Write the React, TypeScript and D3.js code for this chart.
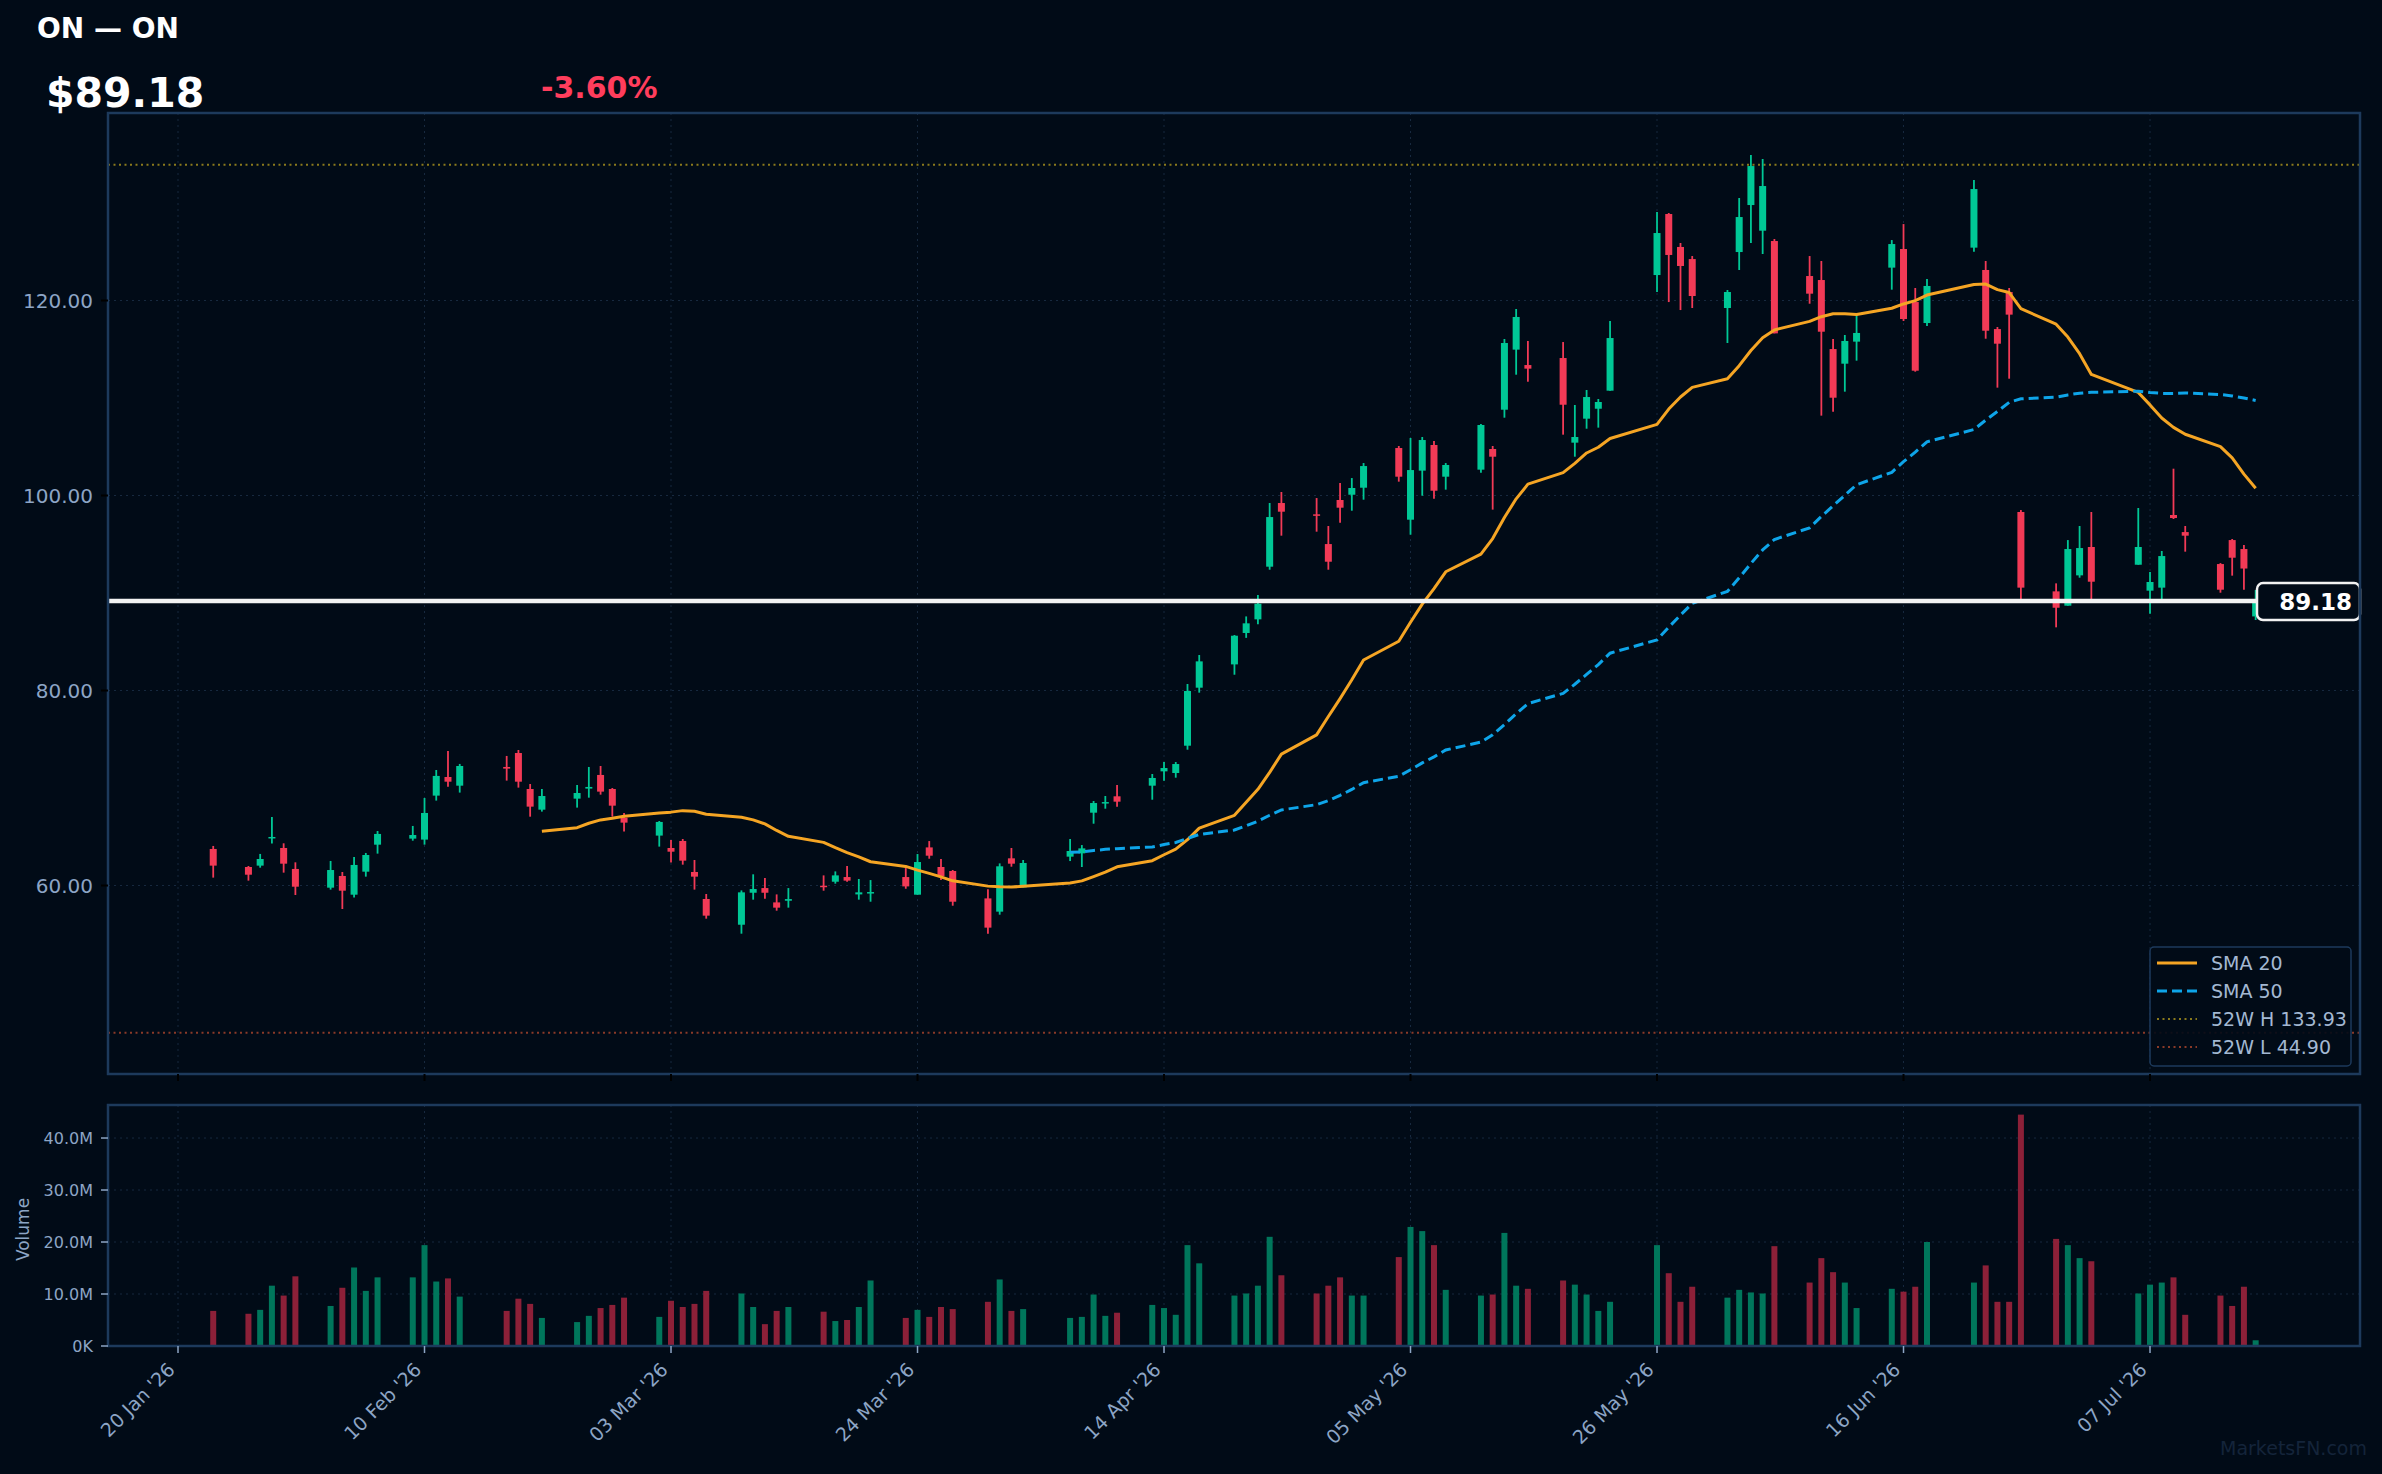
import * as d3 from 'd3'
import { useEffect, useRef } from 'react'

// daily bars, 23 Jan - 16 Jul 2026
const dates = [
  '2026-01-23', '2026-01-26', '2026-01-27', '2026-01-28', '2026-01-29', '2026-01-30',
  '2026-02-02', '2026-02-03', '2026-02-04', '2026-02-05', '2026-02-06',
  '2026-02-09', '2026-02-10', '2026-02-11', '2026-02-12', '2026-02-13',
  '2026-02-17', '2026-02-18', '2026-02-19', '2026-02-20',
  '2026-02-23', '2026-02-24', '2026-02-25', '2026-02-26', '2026-02-27',
  '2026-03-02', '2026-03-03', '2026-03-04', '2026-03-05', '2026-03-06',
  '2026-03-09', '2026-03-10', '2026-03-11', '2026-03-12', '2026-03-13',
  '2026-03-16', '2026-03-17', '2026-03-18', '2026-03-19', '2026-03-20',
  '2026-03-23', '2026-03-24', '2026-03-25', '2026-03-26', '2026-03-27',
  '2026-03-30', '2026-03-31', '2026-04-01', '2026-04-02',
  '2026-04-06', '2026-04-07', '2026-04-08', '2026-04-09', '2026-04-10',
  '2026-04-13', '2026-04-14', '2026-04-15', '2026-04-16', '2026-04-17',
  '2026-04-20', '2026-04-21', '2026-04-22', '2026-04-23', '2026-04-24',
  '2026-04-27', '2026-04-28', '2026-04-29', '2026-04-30', '2026-05-01',
  '2026-05-04', '2026-05-05', '2026-05-06', '2026-05-07', '2026-05-08',
  '2026-05-11', '2026-05-12', '2026-05-13', '2026-05-14', '2026-05-15',
  '2026-05-18', '2026-05-19', '2026-05-20', '2026-05-21', '2026-05-22',
  '2026-05-26', '2026-05-27', '2026-05-28', '2026-05-29',
  '2026-06-01', '2026-06-02', '2026-06-03', '2026-06-04', '2026-06-05',
  '2026-06-08', '2026-06-09', '2026-06-10', '2026-06-11', '2026-06-12',
  '2026-06-15', '2026-06-16', '2026-06-17', '2026-06-18',
  '2026-06-22', '2026-06-23', '2026-06-24', '2026-06-25', '2026-06-26',
  '2026-06-29', '2026-06-30', '2026-07-01', '2026-07-02',
  '2026-07-06', '2026-07-07', '2026-07-08', '2026-07-09', '2026-07-10',
  '2026-07-13', '2026-07-14', '2026-07-15', '2026-07-16',
]

const opens = [
  63.75, 61.9, 62.04, 64.84, 63.85, 61.7,
  59.78, 60.98, 59.06, 61.42, 64.19,
  64.81, 64.71, 69.22, 71.13, 70.24,
  72.16, 73.59, 69.9, 67.78,
  68.91, 69.94, 71.34, 69.9, 66.96,
  65.12, 63.85, 64.57, 61.39, 58.62,
  55.98, 59.26, 59.74, 58.27, 58.44,
  59.98, 60.39, 60.87, 59.09, 59.23,
  60.87, 59.06, 63.91, 61.9, 61.49,
  58.68, 57.32, 62.79, 59.81,
  62.96, 63.3, 67.47, 68.43, 69.15,
  70.24, 71.71, 71.54, 74.34, 80.29,
  82.68, 85.9, 87.3, 92.7, 99.23,
  98.07, 95.02, 99.54, 100.08, 100.8,
  104.87, 97.52, 102.55, 105.18, 101.93,
  102.65, 104.77, 108.8, 114.96, 113.38,
  114.1, 105.42, 107.88, 108.9, 110.75,
  122.61, 128.87, 125.49, 124.25,
  119.23, 124.97, 129.79, 127.16, 126.1,
  122.51, 122.1, 115.02, 113.52, 115.78,
  123.37, 125.28, 119.84, 117.69,
  125.42, 123.13, 117.07, 120.87, 98.31,
  90.17, 88.7, 91.81, 94.72,
  92.9, 90.24, 90.55, 98.0, 96.25,
  92.97, 95.43, 94.51, 87.6,
]

const highs = [
  64.06, 62.0, 63.24, 67.03, 64.33, 62.38,
  62.52, 61.39, 62.93, 63.34, 65.59,
  66.11, 68.98, 71.85, 73.8, 72.47,
  73.29, 73.9, 70.41, 69.9,
  70.31, 72.16, 72.26, 70.0, 67.44,
  66.62, 64.67, 64.77, 62.62, 59.13,
  59.5, 61.15, 60.77, 59.09, 59.74,
  61.04, 61.45, 62.0, 60.67, 60.56,
  61.79, 63.23, 64.56, 62.72, 61.59,
  59.61, 62.27, 63.85, 62.62,
  64.77, 64.15, 68.67, 69.18, 70.31,
  71.44, 72.67, 72.67, 80.67, 83.64,
  85.69, 87.6, 89.8, 99.23, 100.36,
  99.74, 96.87, 101.28, 101.79, 103.33,
  105.08, 105.9, 106.0, 105.59, 103.33,
  107.33, 105.08, 116.05, 119.13, 115.85,
  115.74, 109.28, 110.82, 109.9, 117.9,
  129.08, 128.97, 125.9, 124.56,
  121.08, 130.51, 134.92, 134.51, 126.31,
  124.56, 124.05, 116.05, 116.46, 118.51,
  126.2, 127.84, 121.28, 122.2,
  132.36, 124.05, 117.28, 121.28, 98.51,
  90.99, 95.43, 96.87, 98.31,
  98.72, 92.15, 94.31, 102.75, 96.87,
  93.07, 95.54, 94.92, 90.31,
]

const lows = [
  60.81, 60.5, 61.83, 64.3, 61.32, 59.03,
  59.58, 57.59, 58.76, 60.91, 63.27,
  64.6, 64.19, 68.71, 70.14, 69.53,
  70.76, 70.04, 67.06, 67.58,
  67.99, 69.01, 69.32, 67.06, 65.53,
  63.99, 62.35, 62.14, 59.58, 56.6,
  55.06, 58.55, 58.65, 57.42, 57.73,
  59.47, 60.19, 60.39, 58.55, 58.34,
  59.67, 59.06, 62.75, 60.56, 57.93,
  55.06, 57.01, 61.93, 59.81,
  62.51, 61.9, 66.34, 67.88, 68.09,
  68.8, 70.75, 71.06, 73.93, 79.78,
  81.62, 85.4, 86.8, 92.39, 95.88,
  96.29, 92.39, 97.21, 98.44, 99.57,
  101.42, 95.98, 99.98, 99.67, 100.6,
  102.34, 98.55, 107.98, 112.39, 111.67,
  106.24, 103.98, 106.85, 106.96, 110.75,
  120.87, 119.84, 119.02, 119.23,
  115.64, 123.13, 125.9, 124.77, 116.63,
  119.67, 108.19, 108.6, 110.65, 113.83,
  121.11, 117.9, 112.7, 117.38,
  125.01, 116.08, 111.06, 111.98, 89.28,
  86.48, 88.7, 91.57, 89.28,
  92.9, 87.88, 89.28, 97.59, 94.24,
  90.03, 91.78, 90.34, 87.23,
]

const closes = [
  62.04, 61.11, 62.72, 64.98, 62.24, 59.88,
  61.59, 59.47, 62.11, 63.13, 65.29,
  65.18, 67.44, 71.24, 70.65, 72.26,
  71.99, 70.65, 68.09, 69.18,
  69.49, 70.11, 69.63, 68.19, 66.45,
  66.52, 63.47, 62.55, 60.91, 56.91,
  59.3, 59.64, 59.26, 57.73, 58.61,
  59.85, 61.04, 60.5, 59.3, 59.33,
  59.91, 62.41, 63.06, 60.97, 58.34,
  55.68, 61.97, 62.24, 62.31,
  63.54, 63.81, 68.46, 68.56, 68.6,
  71.03, 72.05, 72.46, 79.95, 82.99,
  85.62, 86.89, 88.9, 97.79, 98.34,
  97.93, 93.21, 98.75, 100.77, 103.02,
  101.93, 102.61, 105.69, 100.49, 103.13,
  107.23, 103.98, 115.64, 118.31, 113.01,
  109.31, 106.0, 110.1, 109.59, 116.15,
  126.92, 124.67, 123.54, 120.46,
  120.87, 128.56, 133.79, 131.74, 116.63,
  120.7, 116.8, 110.03, 115.85, 116.67,
  125.79, 118.1, 112.8, 121.49,
  131.43, 116.9, 115.57, 118.55, 90.55,
  88.49, 94.51, 94.61, 91.16,
  94.72, 91.13, 93.79, 97.69, 95.88,
  90.34, 93.62, 92.51, 89.18,
]

// millions of shares
const volumes = [
  6.75, 6.2, 6.95, 11.6, 9.7, 13.4,
  7.7, 11.2, 15.1, 10.6, 13.2,
  13.2, 19.4, 12.4, 13.0, 9.5,
  6.75, 9.1, 8.1, 5.4,
  4.6, 5.8, 7.3, 7.9, 9.3,
  5.6, 8.7, 7.5, 8.1, 10.6,
  10.1, 7.5, 4.2, 6.75, 7.5,
  6.6, 4.8, 5.0, 7.5, 12.6,
  5.4, 6.95, 5.6, 7.5, 7.1,
  8.5, 12.8, 6.75, 7.1,
  5.4, 5.6, 9.9, 5.8, 6.4,
  7.9, 7.3, 6.0, 19.4, 15.9,
  9.7, 10.1, 11.6, 21.0, 13.6,
  10.1, 11.6, 13.2, 9.7, 9.7,
  17.1, 22.9, 22.1, 19.4, 10.8,
  9.7, 9.9, 21.75, 11.6, 11.0,
  12.6, 11.8, 9.9, 6.75, 8.5,
  19.4, 14.0, 8.5, 11.4,
  9.3, 10.8, 10.3, 10.1, 19.2,
  12.2, 16.9, 14.2, 12.2, 7.3,
  11.0, 10.45, 11.4, 20.0,
  12.2, 15.5, 8.5, 8.5, 44.5,
  20.6, 19.4, 16.9, 16.3,
  10.1, 11.8, 12.2, 13.2, 6.0,
  9.7, 7.7, 11.4, 1.1,
]

const priceTicks = [60, 80, 100, 120]
const volumeTicks = [0, 10, 20, 30, 40]
const volumeTickLabels = ['0K', '10.0M', '20.0M', '30.0M', '40.0M']
const dateTicks = [
  '2026-01-20', '2026-02-10', '2026-03-03', '2026-03-24', '2026-04-14',
  '2026-05-05', '2026-05-26', '2026-06-16', '2026-07-07',
]

const ticker = 'ON'
const high52 = 133.93
const low52 = 44.9

const W = 2382
const H = 1474
const BG = '#010b17'
const UP = '#00c896'
const DOWN = '#f23a56'
const UP_VOL = '#00765b'
const DOWN_VOL = '#8c2038'
const BORDER = '#1d3a5c'
const GRID = '#17293f'
const TICK_TEXT = '#8da5c5'
const FONT = '"DejaVu Sans", Verdana, sans-serif'

function sma(values: number[], n: number) {
  return values.map(function (_v, i) {
    if (i < n - 1) return null
    return d3.mean(values.slice(i - n + 1, i + 1)) as number
  })
}

const App = () => {
  const ref = useRef<SVGSVGElement>(null)

  useEffect(() => {
    document.body.style.margin = '0'
    document.body.style.background = BG

    const svg = d3.select(ref.current)
    svg.selectAll('*').remove()

    const parse = d3.timeParse('%Y-%m-%d')
    const days = dates.map((d) => parse(d) as Date)
    const n = days.length

    const main = { left: 108, right: 2360, top: 113, bottom: 1074 }
    const vol = { left: 108, right: 2360, top: 1105, bottom: 1346 }

    const x = d3
      .scaleTime()
      .domain([new Date(2026, 0, 14, 0, 52), new Date(2026, 6, 24, 21, 20)])
      .range([main.left, main.right])
    const y = d3.scaleLinear().domain([40.67, 139.23]).range([main.bottom, main.top])
    const yv = d3.scaleLinear().domain([0, 46.35]).range([vol.bottom, vol.top])

    svg.append('rect').attr('width', W).attr('height', H).attr('fill', BG)

    // header
    const last = closes[n - 1]
    const change = (last / closes[n - 2] - 1) * 100
    svg
      .append('text')
      .attr('x', 37)
      .attr('y', 38)
      .attr('fill', '#ffffff')
      .style('font', `bold 28px ${FONT}`)
      .text(`${ticker} — ${ticker}`)
    svg
      .append('text')
      .attr('x', 46)
      .attr('y', 107)
      .attr('fill', '#ffffff')
      .style('font', `bold 41px ${FONT}`)
      .text('$' + last.toFixed(2))
    svg
      .append('text')
      .attr('x', 541)
      .attr('y', 98)
      .attr('fill', change < 0 ? '#ff3d5c' : UP)
      .style('font', `bold 30px ${FONT}`)
      .text((change > 0 ? '+' : '') + change.toFixed(2) + '%')

    // grids
    const grid = svg.append('g').attr('stroke', GRID).attr('stroke-width', 1).attr('stroke-dasharray', '2,4')
    priceTicks.forEach(function (t) {
      grid.append('line').attr('x1', main.left).attr('x2', main.right).attr('y1', y(t)).attr('y2', y(t))
    })
    volumeTicks.slice(1).forEach(function (t) {
      grid.append('line').attr('x1', vol.left).attr('x2', vol.right).attr('y1', yv(t)).attr('y2', yv(t))
    })
    dateTicks.forEach(function (t) {
      const xx = x(parse(t) as Date)
      grid.append('line').attr('x1', xx).attr('x2', xx).attr('y1', main.top).attr('y2', main.bottom)
      grid.append('line').attr('x1', xx).attr('x2', xx).attr('y1', vol.top).attr('y2', vol.bottom)
    })

    // 52 week lines
    svg
      .append('line')
      .attr('x1', main.left)
      .attr('x2', main.right)
      .attr('y1', y(high52))
      .attr('y2', y(high52))
      .attr('stroke', '#8a7a1c')
      .attr('stroke-width', 2)
      .attr('stroke-dasharray', '2,3.5')
    svg
      .append('line')
      .attr('x1', main.left)
      .attr('x2', main.right)
      .attr('y1', y(low52))
      .attr('y2', y(low52))
      .attr('stroke', '#8a3a28')
      .attr('stroke-width', 2)
      .attr('stroke-dasharray', '2,3.5')

    // candles
    const idx = d3.range(n)
    const candles = svg.append('g')
    candles
      .selectAll('line')
      .data(idx)
      .enter()
      .append('line')
      .attr('x1', (i) => x(days[i]))
      .attr('x2', (i) => x(days[i]))
      .attr('y1', (i) => y(highs[i]))
      .attr('y2', (i) => y(lows[i]))
      .attr('stroke', (i) => (closes[i] >= opens[i] ? UP : DOWN))
      .attr('stroke-width', 1.8)
    candles
      .selectAll('rect')
      .data(idx)
      .enter()
      .append('rect')
      .attr('x', (i) => x(days[i]) - 3.5)
      .attr('width', 7)
      .attr('y', (i) => y(Math.max(opens[i], closes[i])))
      .attr('height', (i) => Math.max(1.5, Math.abs(y(opens[i]) - y(closes[i]))))
      .attr('fill', (i) => (closes[i] >= opens[i] ? UP : DOWN))

    // moving averages
    const sma20 = sma(closes, 20)
    const sma50 = sma(closes, 50)
    const line = d3
      .line<number>()
      .defined((i) => sma20[i] !== null)
      .x((i) => x(days[i]))
      .y((i) => y(sma20[i] as number))
    svg
      .append('path')
      .attr('d', line(idx))
      .attr('fill', 'none')
      .attr('stroke', '#f5a524')
      .attr('stroke-width', 3)
      .attr('stroke-linejoin', 'round')
    const line50 = d3
      .line<number>()
      .defined((i) => sma50[i] !== null)
      .x((i) => x(days[i]))
      .y((i) => y(sma50[i] as number))
    svg
      .append('path')
      .attr('d', line50(idx))
      .attr('fill', 'none')
      .attr('stroke', '#0ea5e9')
      .attr('stroke-width', 3)
      .attr('stroke-dasharray', '10,5')

    // last price line + label
    svg
      .append('line')
      .attr('x1', main.left)
      .attr('x2', 2258)
      .attr('y1', y(last))
      .attr('y2', y(last))
      .attr('stroke', '#f2f2f2')
      .attr('stroke-width', 4.5)
    svg
      .append('rect')
      .attr('x', 2257)
      .attr('y', y(last) - 18)
      .attr('width', 103)
      .attr('height', 37)
      .attr('rx', 6)
      .attr('fill', BG)
      .attr('stroke', '#f2f2f2')
      .attr('stroke-width', 2.5)
    svg
      .append('text')
      .attr('x', 2352)
      .attr('y', y(last) + 9)
      .attr('text-anchor', 'end')
      .attr('fill', '#ffffff')
      .style('font', `bold 23px ${FONT}`)
      .text(last.toFixed(2))

    // panel frames
    svg
      .append('rect')
      .attr('x', main.left)
      .attr('y', main.top)
      .attr('width', main.right - main.left)
      .attr('height', main.bottom - main.top)
      .attr('fill', 'none')
      .attr('stroke', BORDER)
      .attr('stroke-width', 2.5)

    // price axis
    const pa = svg.append('g')
    priceTicks.forEach(function (t) {
      pa.append('line').attr('x1', 101).attr('x2', main.left).attr('y1', y(t)).attr('y2', y(t)).attr('stroke', '#000').attr('stroke-width', 2)
      pa.append('text')
        .attr('x', 93)
        .attr('y', y(t))
        .attr('dy', '0.36em')
        .attr('text-anchor', 'end')
        .attr('fill', TICK_TEXT)
        .style('font', `20px ${FONT}`)
        .text(t.toFixed(2))
    })

    // volume bars
    svg
      .append('g')
      .selectAll('rect')
      .data(idx)
      .enter()
      .append('rect')
      .attr('x', (i) => x(days[i]) - 3)
      .attr('width', 6)
      .attr('y', (i) => yv(volumes[i]))
      .attr('height', (i) => vol.bottom - yv(volumes[i]))
      .attr('fill', (i) => (closes[i] >= opens[i] ? UP_VOL : DOWN_VOL))

    svg
      .append('rect')
      .attr('x', vol.left)
      .attr('y', vol.top)
      .attr('width', vol.right - vol.left)
      .attr('height', vol.bottom - vol.top)
      .attr('fill', 'none')
      .attr('stroke', BORDER)
      .attr('stroke-width', 2.5)

    const va = svg.append('g')
    volumeTicks.forEach(function (t, i) {
      va.append('line').attr('x1', 101).attr('x2', vol.left).attr('y1', yv(t)).attr('y2', yv(t)).attr('stroke', TICK_TEXT).attr('stroke-width', 1.5)
      va.append('text')
        .attr('x', 93)
        .attr('y', yv(t))
        .attr('dy', '0.36em')
        .attr('text-anchor', 'end')
        .attr('fill', TICK_TEXT)
        .style('font', `16px ${FONT}`)
        .text(volumeTickLabels[i])
    })
    va.append('text')
      .attr('transform', `translate(23,${(vol.top + vol.bottom) / 2 + 4}) rotate(-90)`)
      .attr('text-anchor', 'middle')
      .attr('dy', '0.36em')
      .attr('fill', TICK_TEXT)
      .style('font', `17px ${FONT}`)
      .text('Volume')

    // date axis
    const fmt = d3.timeFormat("%d %b '%y")
    const da = svg.append('g')
    dateTicks.forEach(function (t) {
      const d = parse(t) as Date
      const xx = x(d)
      da.append('line').attr('x1', xx).attr('x2', xx).attr('y1', vol.bottom).attr('y2', vol.bottom + 7).attr('stroke', TICK_TEXT).attr('stroke-width', 1.5)
      da.append('line').attr('x1', xx).attr('x2', xx).attr('y1', main.bottom).attr('y2', main.bottom + 7).attr('stroke', '#000').attr('stroke-width', 2)
      da.append('text')
        .attr('transform', `translate(${xx - 2},1371) rotate(-45)`)
        .attr('text-anchor', 'end')
        .attr('fill', TICK_TEXT)
        .style('font', `19px ${FONT}`)
        .text(fmt(d))
    })

    // legend
    const lg = svg.append('g').attr('transform', 'translate(2150,947)')
    lg.append('rect')
      .attr('width', 201)
      .attr('height', 119)
      .attr('rx', 4)
      .attr('fill', BG)
      .attr('fill-opacity', 0.9)
      .attr('stroke', BORDER)
      .attr('stroke-width', 1.5)
    const items = [
      { label: 'SMA 20', color: '#f5a524', dash: null, w: 3 },
      { label: 'SMA 50', color: '#0ea5e9', dash: '10,5', w: 3 },
      { label: `52W H ${high52.toFixed(2)}`, color: '#8a7a1c', dash: '2,3.5', w: 2 },
      { label: `52W L ${low52.toFixed(2)}`, color: '#8a3a28', dash: '2,3.5', w: 2 },
    ]
    items.forEach(function (it, i) {
      const yy = 16 + i * 28
      lg.append('line')
        .attr('x1', 7)
        .attr('x2', 47)
        .attr('y1', yy)
        .attr('y2', yy)
        .attr('stroke', it.color)
        .attr('stroke-width', it.w)
        .attr('stroke-dasharray', it.dash)
      lg.append('text')
        .attr('x', 61)
        .attr('y', yy)
        .attr('dy', '0.36em')
        .attr('fill', '#a3b8d2')
        .style('font', `19px ${FONT}`)
        .text(it.label)
    })

    svg
      .append('text')
      .attr('x', 2367)
      .attr('y', 1455)
      .attr('text-anchor', 'end')
      .attr('fill', '#14243a')
      .style('font', `19px ${FONT}`)
      .text('MarketsFN.com')
  }, [])

  return <svg ref={ref} width={W} height={H} style={{ display: 'block' }} />
}

export default App
